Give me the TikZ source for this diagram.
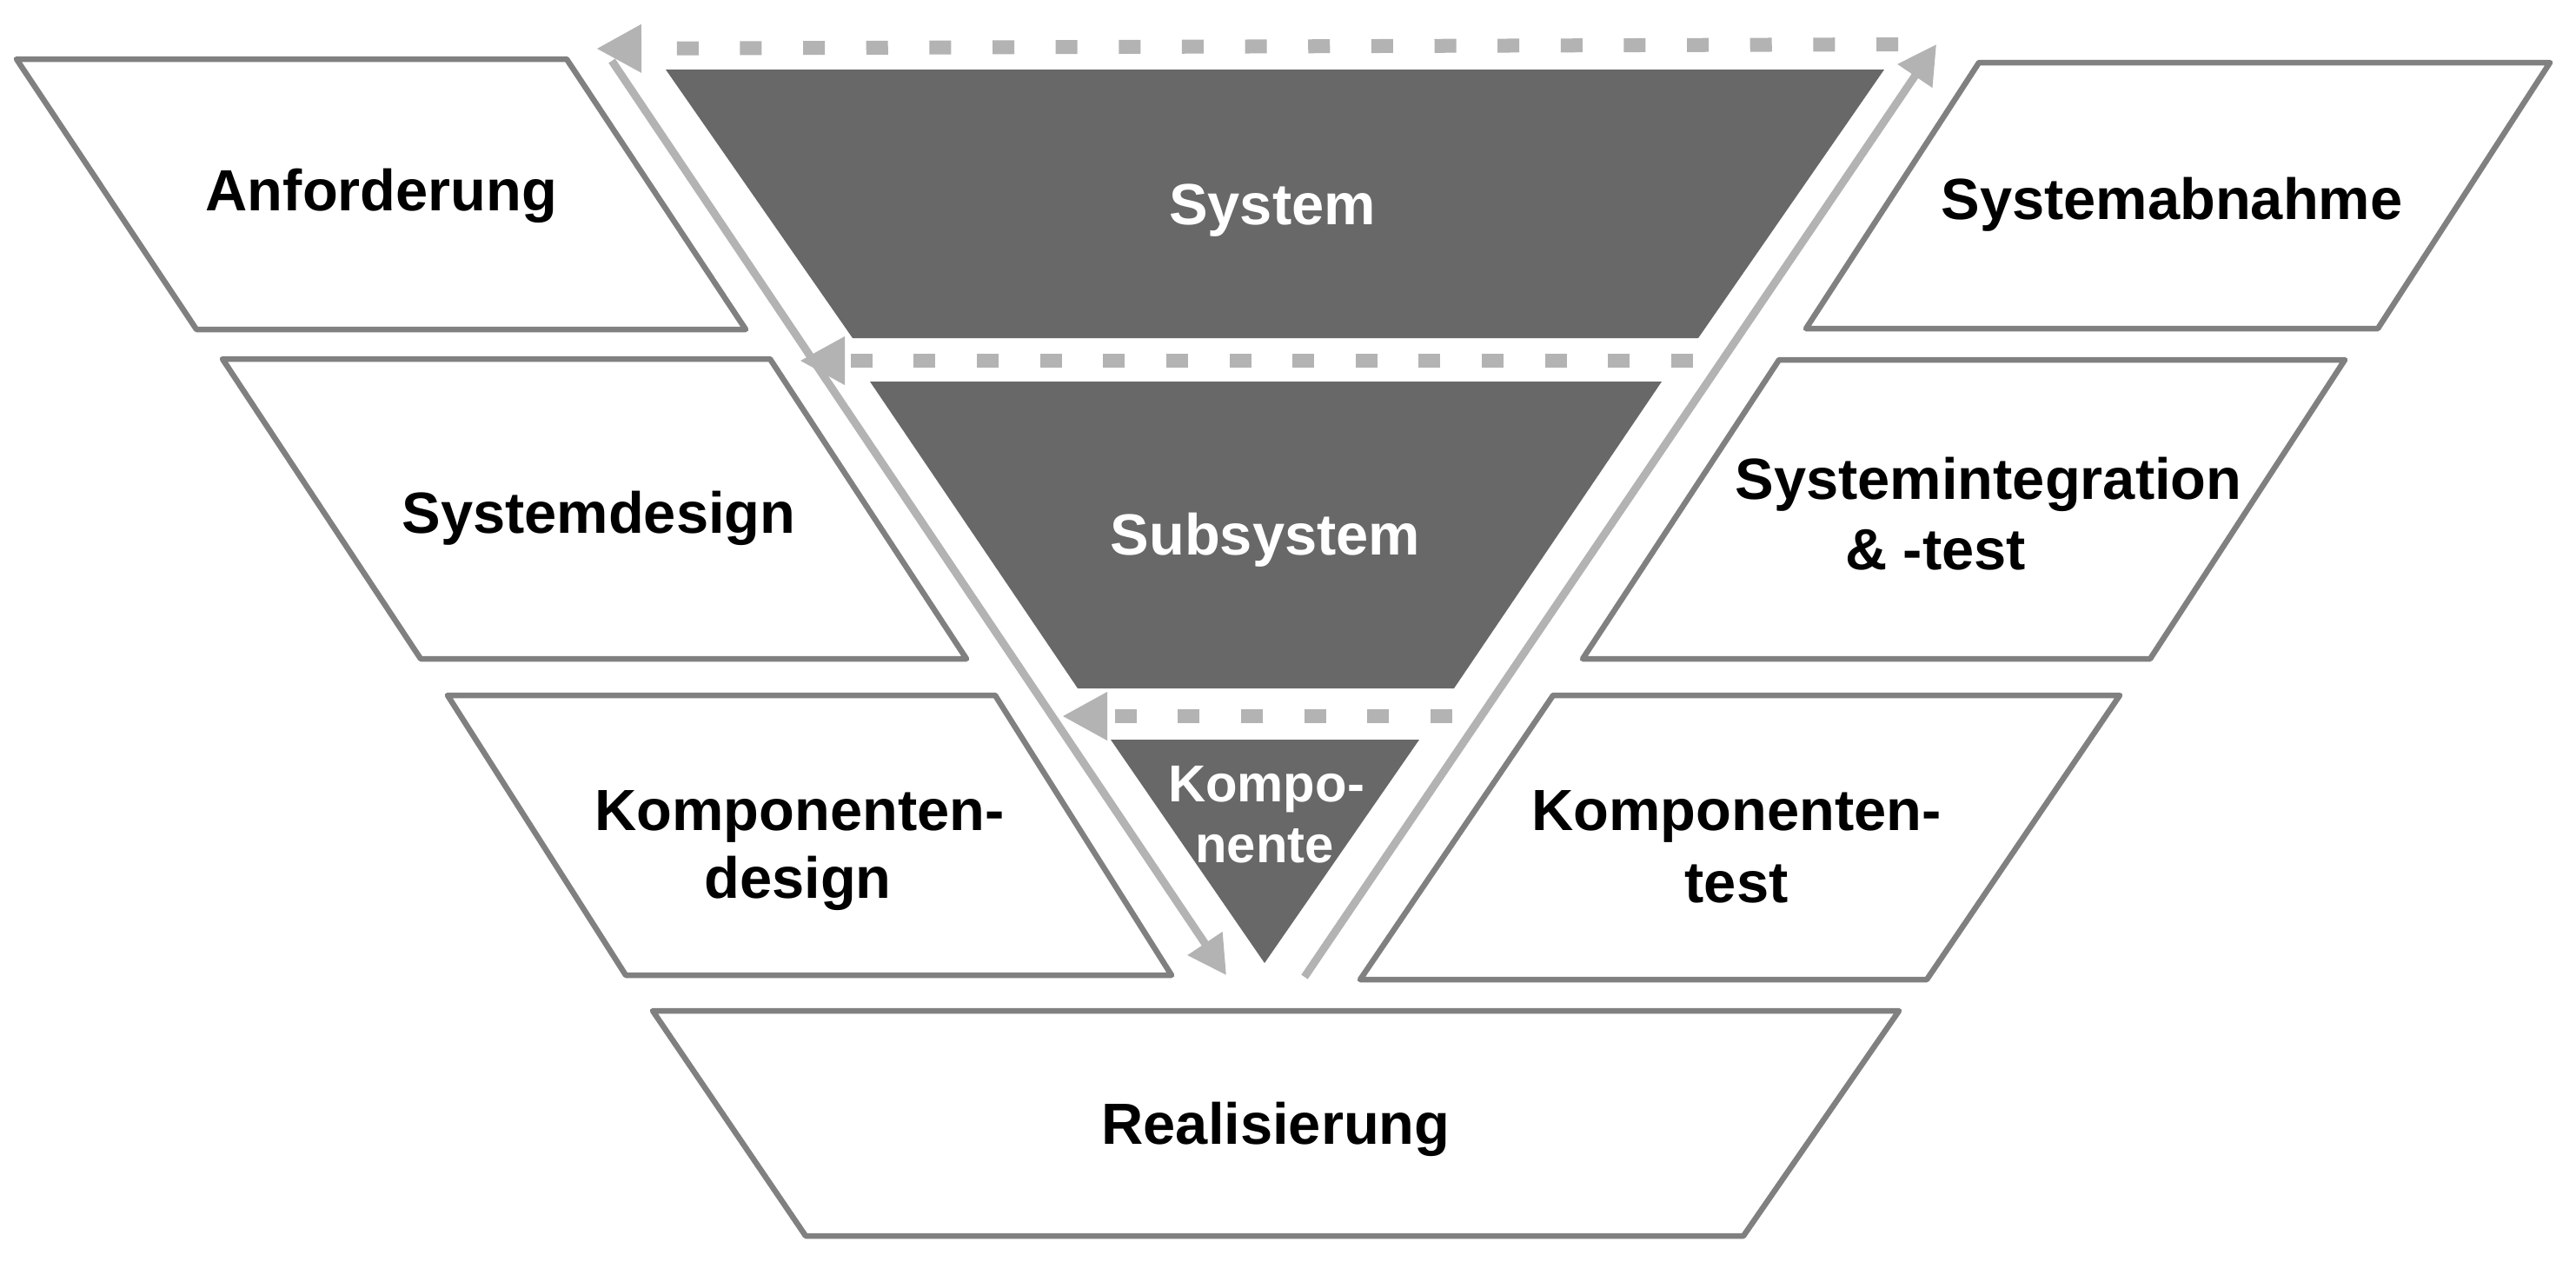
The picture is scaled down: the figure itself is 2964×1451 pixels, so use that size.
\documentclass[tikz,border=0pt]{standalone}
\usepackage{fontspec}
\setmainfont{Liberation Sans}
\usetikzlibrary{arrows.meta}
\definecolor{darkfill}{RGB}{104,104,104}
\definecolor{arrowgray}{RGB}{179,179,179}
\definecolor{boxline}{RGB}{128,128,128}
\begin{document}
\begin{tikzpicture}[x=0.01cm,y=-0.01cm,
  phasebox/.style={draw=boxline, line width=0.065cm, fill=white, line join=round},
  levelshape/.style={fill=darkfill},
  phasetext/.style={font=\bfseries\fontsize{19}{22.8}\selectfont, text=black, inner sep=0pt, anchor=base},
  leveltext/.style={font=\bfseries\fontsize{19}{22.8}\selectfont, text=white, inner sep=0pt, anchor=base},
  smalltext/.style={font=\bfseries\fontsize{17}{20}\selectfont, text=white, inner sep=0pt, anchor=base},
  flowline/.style={draw=arrowgray, line width=0.09cm, -{Triangle[length=0.44cm,width=0.46cm]}},
  backflow/.style={draw=arrowgray, line width=0.16cm, dash pattern=on 0.25cm off 0.476cm, -{Triangle[length=0.52cm,width=0.52cm]}},
]
\useasboundingbox (0,0) rectangle (2964,1451);
\fill[white] (0,0) rectangle (2964,1451);

% phase boxes
\draw[phasebox] (19,68) -- (652,68) -- (858,379) -- (226,379) -- cycle;
\draw[phasebox] (256,413) -- (886,413) -- (1112,758) -- (484,758) -- cycle;
\draw[phasebox] (515,800) -- (1145,800) -- (1348,1122) -- (720,1122) -- cycle;
\draw[phasebox] (751,1163) -- (2185,1163) -- (2006,1422) -- (927,1422) -- cycle;
\draw[phasebox] (2277,72) -- (2934,72) -- (2736,378) -- (2078,378) -- cycle;
\draw[phasebox] (2047,414) -- (2698,414) -- (2474,758) -- (1821,758) -- cycle;
\draw[phasebox] (1787,800) -- (2439,800) -- (2217,1127) -- (1565,1127) -- cycle;

% level shapes
\fill[levelshape] (766,80) -- (2168,80) -- (1954,389) -- (981,389) -- cycle;
\fill[levelshape] (1001,439) -- (1912,439) -- (1673,792) -- (1240,792) -- cycle;
\fill[levelshape] (1278,851) -- (1633,851) -- (1455,1108) -- cycle;

% texts
\node[phasetext] (anf) at (439,242) {Anforderung};
\node[phasetext] (sysd) at (689,613) {Systemdesign};
\node[phasetext] (kompdA) at (920,955) {Komponenten-};
\node[phasetext] (kompdB) at (918,1033) {design};
\node[phasetext] (real) at (1468,1316) {Realisierung};
\node[phasetext] (sysab) at (2499,252) {Systemabnahme};
\node[phasetext] (sysintA) at (2288,574) {Systemintegration};
\node[phasetext] (sysintB) at (2227,655) {\& -test};
\node[phasetext] (komptA) at (1998,955) {Komponenten-};
\node[phasetext] (komptB) at (1998,1038) {test};
\node[leveltext] (sys) at (1464,258) {System};
\node[leveltext] (subsys) at (1456,638) {Subsystem};
\node[smalltext] (kompA) at (1457,922) {Kompo-};
\node[smalltext] (kompB) at (1455,992) {nente};

% flow arrows
\coordinate (downS) at (704,70);
\coordinate (downE) at (1411,1122);
\coordinate (upS) at (1501,1124);
\coordinate (upE) at (2228,51);
\draw[flowline] (downS) -- (downE);
\draw[flowline] (upS) -- (upE);

% feedback arrows
\coordinate (fbAS) at (2184,51);
\coordinate (fbAE) at (686,56);
\coordinate (fbBS) at (1948,415);
\coordinate (fbBE) at (920,415);
\coordinate (fbCS) at (1671,824);
\coordinate (fbCE) at (1222,824);
\draw[backflow] (fbAS) -- (fbAE);
\draw[backflow] (fbBS) -- (fbBE);
\draw[backflow] (fbCS) -- (fbCE);
\end{tikzpicture}
\end{document}
